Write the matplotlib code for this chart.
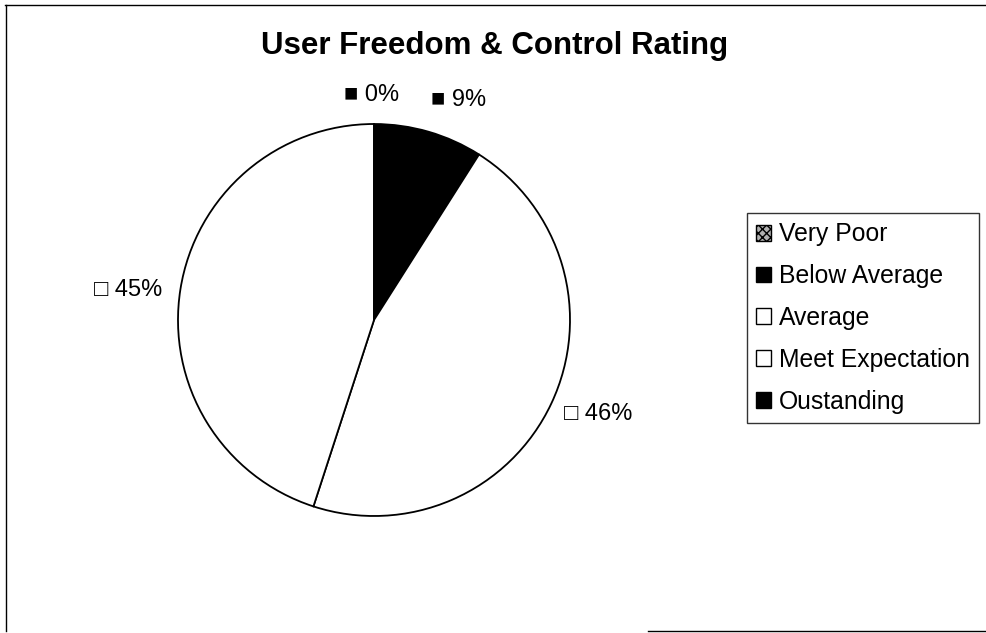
import matplotlib.pyplot as plt
from matplotlib.patches import Rectangle
from matplotlib.lines import Line2D
import numpy as np

plt.rcParams['font.family'] = ['Liberation Sans', 'DejaVu Sans']

categories = ['Very Poor', 'Below Average', 'Average', 'Meet Expectation', 'Oustanding']
values = [0, 9, 46, 45, 0]
labels = ['0%', '9%', '46%', '45%', '']
colors = ['#b0b0b0', 'black', 'white', 'white', 'black']
hatches = ['xxxx', None, None, None, None]
label_marks = ['\u25a0', '\u25a0', '\u25a1', '\u25a1', '\u25a0']

fig = plt.figure(figsize=(9.86, 6.33), dpi=100)
W, H = 986, 633
cx, cy, R = 374, 320, 196
ax = fig.add_axes([(cx - R) / W, (H - cy - R) / H, 2 * R / W, 2 * R / H])

wedges, _ = ax.pie(values, colors=colors, startangle=90, counterclock=False,
                   wedgeprops=dict(edgecolor='black', linewidth=1.3), radius=1)
for w, h in zip(wedges, hatches):
    if h:
        w.set_hatch(h)
ax.set_xlim(-1, 1)
ax.set_ylim(-1, 1)
ax.set_aspect('equal')
ax.axis('off')

# data labels outside the pie, small pixel nudges like excel's placement
nudge = {0: (-10, 0), 1: (17, 13), 2: (4, -9), 3: (-6, 8)}
total = sum(values)
start = 0.0
for i, v in enumerate(values):
    mid = start + v / total * 360 / 2
    start += v / total * 360
    if not labels[i]:
        continue
    a = np.deg2rad(mid)
    d = 1.24
    x, y = d * np.sin(a), d * np.cos(a)
    if v == 0:
        x += 0.04
        y -= 0.09
    dx, dy = nudge.get(i, (0, 0))
    x += dx / R
    y -= dy / R
    ax.text(x, y, label_marks[i] + ' ' + labels[i], ha='center', va='center',
            fontsize=17, clip_on=False)

fig.text(495 / W, 1 - 46 / H, 'User Freedom & Control Rating', ha='center', va='center',
         fontsize=22.5, fontweight='bold')

handles = []
for c, h in zip(colors, hatches):
    handles.append(Rectangle((0, 0), 1, 1, facecolor=c, edgecolor='black',
                             linewidth=1, hatch=h))
leg = fig.legend(handles, categories, loc='center left',
                 bbox_to_anchor=(747 / W, 1 - 318 / H), fontsize=17.8,
                 frameon=True, fancybox=False, edgecolor='black',
                 handlelength=0.6, handleheight=0.6, handletextpad=0.3,
                 labelspacing=0.72, borderpad=0.38, borderaxespad=0)
leg.get_frame().set_linewidth(1)

# chart area border (bottom edge only partly visible in the scan)
for xs, ys in [([0.005, 0.999], [0.992, 0.992]),
               ([0.006, 0.006], [0.003, 0.992]),
               ([648 / W, 0.999], [0.003, 0.003])]:
    fig.lines.append(Line2D(xs, ys, transform=fig.transFigure, color='black', linewidth=1))

fig.savefig('out.png', dpi=100)
